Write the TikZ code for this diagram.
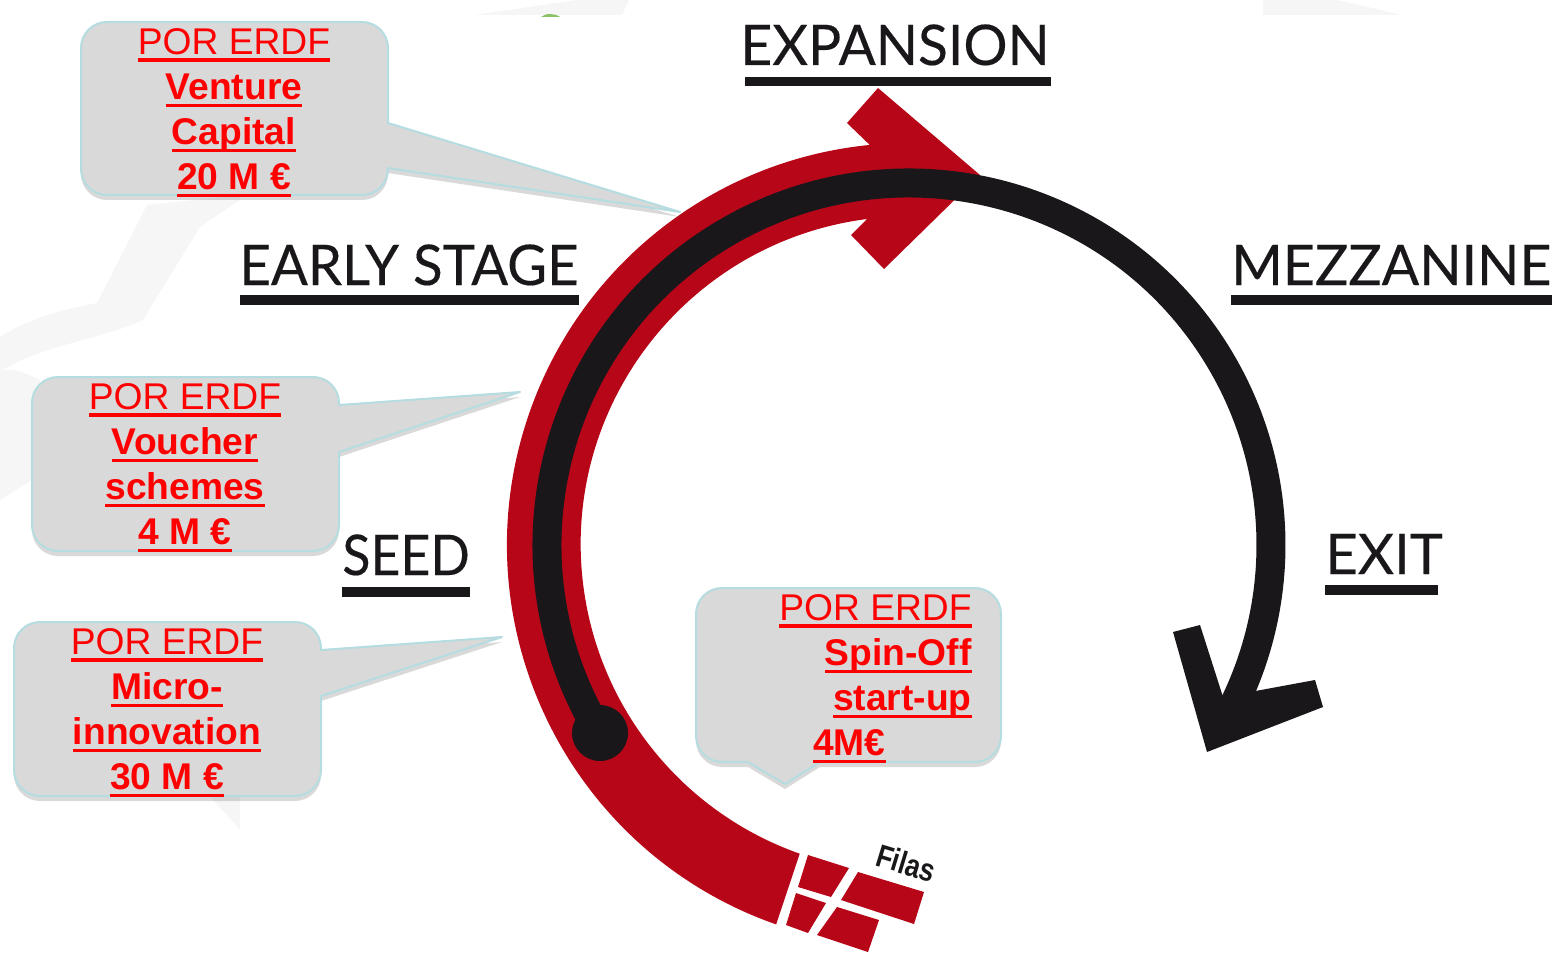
\documentclass[tikz,border=0pt]{standalone}
\usepackage{fontspec}
\setmainfont{Liberation Sans}
\newfontfamily\stagefont[FakeBold=0.3]{Lato}
\usetikzlibrary{shadows}
\definecolor{ringred}{HTML}{B70618}
\definecolor{ringblack}{HTML}{1A171B}
\definecolor{bubblefill}{HTML}{D9D9D9}
\definecolor{bubbleline}{HTML}{B5DCE0}
\definecolor{ghost}{HTML}{F6F6F6}
\newsavebox{\ulbox}
\newcommand{\ltxt}[1]{\sbox{\ulbox}{#1}\rlap{\rule[-3.5pt]{\wd\ulbox}{1.6pt}}\usebox{\ulbox}}
\newcommand{\btxt}[1]{\sbox{\ulbox}{\bfseries #1}\rlap{\rule[-3.8pt]{\wd\ulbox}{1.8pt}}\usebox{\ulbox}}
\tikzset{
  bubble/.style={fill=bubblefill, draw=bubbleline, line width=1pt, line join=round,
                 drop shadow={shadow xshift=0pt, shadow yshift=-2.5pt, opacity=.3}},
  bubbletext/.style={text=red, font=\fontsize{18.6}{22.5}\selectfont, align=center, inner sep=0pt},
  stage/.style={text=ringblack, font=\stagefont\fontsize{28}{28}\selectfont, inner sep=0pt, anchor=base west},
  stagebar/.style={fill=ringblack},
  brick/.style={fill=ringred}
}
\begin{document}
\begin{tikzpicture}[x=.5pt,y=-.5pt]
 \useasboundingbox (0,0) rectangle (1556,952);
 \coordinate (ring) at (909,545);
 % watermark behind
 \fill[ghost] (147,205) -- (97,303) .. controls (60,310) and (30,318) .. (0,337) -- (0,500) -- (32,480) -- (40,380)
    .. controls (10,365) and (5,370) .. (0,372) .. controls (40,345) and (100,340) .. (143,320) -- (200,227) -- (240,200) -- (240,195) -- cycle;
 \fill[ghost] (210,796) -- (240,796) -- (240,830) -- cycle;
 \fill[ghost] (474,15) -- (577,0) -- (629,0) -- (622,15) -- cycle;
 \fill[ghost] (1263,0) -- (1337,0) -- (1403,15) -- (1263,15) -- cycle;
 \fill[green!60!yellow!60!black!60!white] (541,17) .. controls (545,13) and (555,13) .. (560,17) -- cycle;
 % ring
 \fill[ringred] ([shift={(250.7:201pt)}]ring) arc[start angle=250.7,end angle=95.6,radius=201pt]
    -- (847,123) -- (878,88) -- (980,175) -- (884,269) -- (851,235) -- (867,219)
    arc[start angle=97.3,end angle=250.6,radius=164pt] -- cycle;
 \draw[ringblack, line width=14.5pt] ([shift={(211.3:181pt)}]ring) arc[start angle=211.3,end angle=-29,radius=181pt];
 \fill[ringblack] (600,733) circle[radius=14pt];
 \fill[ringblack] (1173,632) -- (1200,625) -- (1223,697) -- (1315,680) -- (1323,707) -- (1207,752) -- cycle;
 % logo
 \fill[brick] (808,855) -- (849,868) -- (831,897) -- (798,887) -- cycle;
 \fill[brick] (858,872) -- (924,892) -- (914,924) -- (841,900) -- cycle;
 \fill[brick] (796,893) -- (826,903) -- (808,933) -- (786,925) -- cycle;
 \fill[brick] (837,907) -- (879,920) -- (868,952) -- (817,935) -- cycle;
 \node[rotate=-17, inner sep=0pt, text=ringblack, font=\bfseries\fontsize{16}{16}\selectfont] (filas) at (906,863) {\scalebox{.82}[1]{Filas}};
 % stages
 \node[stage] (expansion) at (740,65) {\scalebox{.985}[1]{EXPANSION}};
 \fill[stagebar] (745,77) rectangle (1051,86);
 \node[stage] (early) at (239,285) {\scalebox{.975}[1]{EARLY STAGE}};
 \fill[stagebar] (240,295) rectangle (579,305);
 \node[stage] (mezzanine) at (1231,285) {\scalebox{.99}[1]{MEZZANINE}};
 \fill[stagebar] (1231,295) rectangle (1552,305);
 \node[stage] (seed) at (342,575) {\scalebox{.925}[1]{SEED}};
 \fill[stagebar] (342,587) rectangle (470,597);
 \node[stage] (exit) at (1325,574) {EXIT};
 \fill[stagebar] (1325,585) rectangle (1438,595);
 % bubbles
 \draw[bubble] (388,123) [rounded corners=13pt] -- (388,22) -- (81,22) -- (81,195) -- (388,195) [sharp corners] -- (388,168) -- (680,212) -- cycle;
 \draw[bubble] (339,405) [rounded corners=13pt] -- (339,377) -- (32,377) -- (32,551) -- (339,551) [sharp corners] -- (339,452) -- (520,392) -- cycle;
 \draw[bubble] (321,650) [rounded corners=13pt] -- (321,622) -- (14,622) -- (14,796) -- (321,796) [sharp corners] -- (321,696) -- (502,637) -- cycle;
 \draw[bubble] (820,762) [rounded corners=13pt] -- (1001,762) -- (1001,588) -- (696,588) -- (696,762) [sharp corners] -- (748,762) -- (785,784) -- cycle;
 \node[bubbletext] (venture) at (234,113) {\ltxt{POR ERDF}\\\btxt{Venture}\\\btxt{Capital}\\\btxt{20 M €}};
 \node[bubbletext] (voucher) at (185,468) {\ltxt{POR ERDF}\\\btxt{Voucher}\\\btxt{schemes}\\\btxt{4 M €}};
 \node[bubbletext] (micro) at (167,713) {\ltxt{POR ERDF}\\\btxt{Micro-}\\\btxt{innovation}\\\btxt{30 M €}};
 \node[bubbletext, align=right, anchor=east] (spinoff) at (972,679) {\ltxt{POR ERDF}\\\btxt{Spin-Off}\\\btxt{start-up}\\\btxt{4M€}\hspace*{43pt}};
\end{tikzpicture}
\end{document}
